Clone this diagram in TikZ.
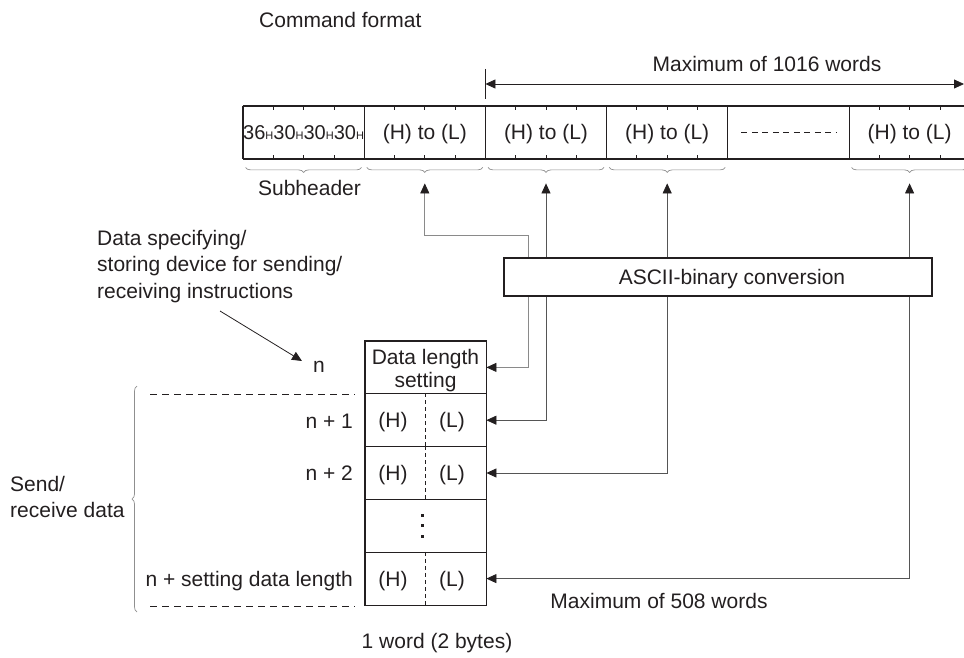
\documentclass[tikz,border=0pt]{standalone}
\usepackage{fontspec}
\setmainfont{Liberation Sans}
\usetikzlibrary{arrows.meta,decorations.pathreplacing,calc}
\definecolor{ink}{HTML}{231F20}
\definecolor{mgray}{HTML}{555555}
\definecolor{lgray}{HTML}{8A8A8A}
\definecolor{bgray}{HTML}{8F8F8F}
\newcommand\hsubx{{\fontsize{11}{11}\selectfont H}}
\begin{document}
\begin{tikzpicture}[x=1pt,y=-1pt,
  >={Triangle[width=9pt,length=10pt,color=ink]},
  txt/.style={inner sep=0pt, text=ink, font=\fontsize{21}{26.5}\selectfont},
  cell/.style={txt, draw=ink, line width=0.8pt, minimum width=121.2pt, minimum height=53pt, text height=15pt, text depth=0pt},
  rowbox/.style={draw=ink, line width=0.8pt, minimum width=121pt, minimum height=52.8pt, inner sep=0pt},
  heavy/.style={draw=ink, line width=1.8pt},
  tick/.style={draw=ink, line width=0.8pt},
  cbrace/.style={draw=bgray, line width=0.7pt, decorate, decoration={brace, amplitude=5pt}},
  conn/.style={draw=mgray, line width=0.8pt},
  connl/.style={draw=lgray, line width=0.8pt},
  dline/.style={draw=ink, line width=0.8pt, dash pattern=on 7pt off 5pt},
  asciibox/.style={txt, draw=ink, fill=white, line width=1.2pt, minimum width=428pt, minimum height=38pt, text height=15pt, text depth=0pt}
]
\useasboundingbox (0,0) rectangle (964,658);
\clip (0,0) rectangle (964,658);

% ---- command format row ----
\node[txt, anchor=base west] (title) at (259,27.5) {Command format};
\node[cell] (c1) at (303.6,132.5) {\fontsize{20}{20}\selectfont 36\hsubx30\hsubx30\hsubx30\hsubx};
\node[cell] (c2) at (424.8,132.5) {(H) to (L)};
\node[cell] (c3) at (546.0,132.5) {(H) to (L)};
\node[cell] (c4) at (667.2,132.5) {(H) to (L)};
\node[cell] (c5) at (788.4,132.5) {};
\node[cell] (c6) at (909.6,132.5) {(H) to (L)};
\draw[dline, dash pattern=on 6pt off 4.5pt] ([xshift=14pt]c5.west) -- ([xshift=-12pt]c5.east);
\draw[heavy] (c1.north west) -- (c6.north east);
\draw[heavy] (c1.south west) -- (c6.south east);
\draw[heavy] (c1.north west) -- (c1.south west);
\foreach \i in {1,2,3,4,6} {
  \foreach \k in {1,2,3} {
    \draw[tick] ($(c\i.north west)!\k/4!(c\i.north east)$) -- ++(0,4);
    \draw[tick] ($(c\i.south west)!\k/4!(c\i.south east)$) -- ++(0,-4);
  }
  \draw[cbrace] ([xshift=-3pt,yshift=-8pt]c\i.south east) -- ([xshift=3pt,yshift=-8pt]c\i.south west);
}
\node[txt, anchor=base] (subh) at (309.5,195.5) {Subheader};

% ---- maximum 1016 words ----
\coordinate (m1) at (485.4,84);
\coordinate (m2) at (964,84);
\draw[tick] (485.4,69) -- (485.4,99);
\draw[draw=ink, line width=0.8pt, <->] (m1) -- (m2);
\node[txt, anchor=base] (max1) at (767,71.5) {Maximum of 1016 words};

% ---- data table ----
\foreach \j in {0,...,4} {
  \node[rowbox] (d\j) at (425.5,{341+52.8*(\j+0.5)}) {};
}
\draw[heavy] (d0.north west) rectangle (d4.south east);
\node[txt, align=center] (dls) at ([yshift=-3.5pt]d0.center) {Data length\\[-3.5pt]setting};
\foreach \j in {1,2,4} {
  \draw[dline, dash pattern=on 4pt off 3pt] (d\j.north) -- (d\j.south);
  \node[txt, anchor=base] (h\j) at ([xshift=-32.5pt,yshift=-7.5pt]d\j.center) {(H)};
  \node[txt, anchor=base] (l\j) at ([xshift=26.5pt,yshift=-7.5pt]d\j.center) {(L)};
}
\foreach \dy in {-10.5,0,10.5} {
  \fill[ink] ([xshift=-3pt,yshift=\dy pt]d3.center) ++(-1.6,-1.6) rectangle ++(3.2,3.2);
}

% ---- row labels ----
\node[txt, anchor=base] (nl) at (319,372) {n};
\node[txt, anchor=base east] (n1) at (353,428) {n + 1};
\node[txt, anchor=base east] (n2) at (353,480.5) {n + 2};
\node[txt, anchor=base east] (nL) at (353,586) {n + setting data length};
\draw[dline] (150,394) -- (355,394);
\draw[dline] (150,606) -- (355,606);
\draw[cbrace] (137,612) -- (137,386);
\node[txt, anchor=base west, align=left] (srd) at (10,517.5) {Send/\\receive data};

% ---- annotation ----
\node[txt, anchor=base west, align=left] (note) at (97,298) {Data specifying/\\storing device for sending/\\receiving instructions};
\coordinate (a0) at (220,311);
\coordinate (a1) at (302,361);
\draw[draw=ink, line width=0.8pt, ->] (a0) -- (a1);

% ---- connectors ----
\draw[connl, <->] ([yshift=-24pt]c2.south) |- (528,235) |- (d0.east);
\draw[conn, <->] ([yshift=-24pt]c3.south) |- (d1.east);
\draw[conn, <->] ([yshift=-24pt]c4.south) |- (d2.east);
\draw[conn, <->] ([yshift=-24pt]c6.south) |- (d4.east);
\node[asciibox] (ascii) at (718,277) {\hspace*{28pt}ASCII-binary conversion};

% ---- bottom texts ----
\node[txt, anchor=base] (max2) at (659,608) {Maximum of 508 words};
\node[txt, anchor=base] (word) at (437,648) {1 word (2 bytes)};
\end{tikzpicture}
\end{document}
